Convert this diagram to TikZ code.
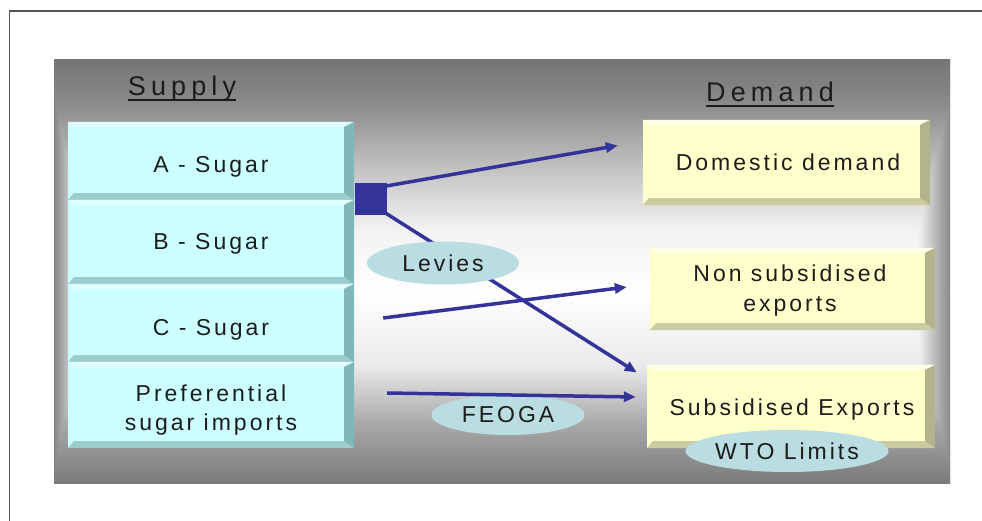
\documentclass[tikz,border=0pt]{standalone}
\usepackage{fontspec}
\setmainfont{Liberation Sans}
\newfontfamily\bodyfont{Liberation Sans}[LetterSpace=13]
\newfontfamily\headfont{Liberation Sans}[LetterSpace=19]
\usetikzlibrary{arrows.meta,shapes.geometric}
\definecolor{cy}{HTML}{CCFFFF}
\definecolor{cyd}{HTML}{80B8B8}
\definecolor{cym}{HTML}{9CCCCC}
\definecolor{cyl}{HTML}{E2FFFF}
\definecolor{ye}{HTML}{FFFFCC}
\definecolor{yed}{HTML}{B4B48C}
\definecolor{yem}{HTML}{CBCBA0}
\definecolor{yel}{HTML}{FFFFE6}
\definecolor{arr}{HTML}{333399}
\definecolor{ell}{HTML}{B9DDE1}
\definecolor{txt}{HTML}{1C1C1C}
\definecolor{frame}{HTML}{555555}
\pgfdeclareverticalshading{panelv}{100bp}{gray(0bp)=(0.48); gray(25bp)=(0.48); gray(32bp)=(0.66); gray(39bp)=(0.92); gray(47.5bp)=(1); gray(55bp)=(0.95); gray(63bp)=(0.74); gray(70bp)=(0.54); gray(75bp)=(0.46); gray(100bp)=(0.46)}
\pgfdeclarehorizontalshading{panelh}{100bp}{gray(0bp)=(0.52); gray(25bp)=(0.52); gray(25.7bp)=(0.74); gray(26.8bp)=(1); gray(73bp)=(1); gray(74.2bp)=(0.72); gray(75bp)=(0.54); gray(100bp)=(0.54)}
\newcommand\mybevel[4]{%
  \fill[#4] (#1.north west) -- (#1.north east) -- ([shift={(-10,5)}]#1.north east) -- ([shift={(6,5)}]#1.north west) -- cycle;
  \fill[#3] (#1.south west) -- (#1.south east) -- ([shift={(-10,-7)}]#1.south east) -- ([shift={(6,-7)}]#1.south west) -- cycle;
  \fill[#2] (#1.north east) -- (#1.south east) -- ([shift={(-10,-7)}]#1.south east) -- ([shift={(-10,5)}]#1.north east) -- cycle;
}
\tikzset{
  cbox/.style={rectangle, fill=cy, inner sep=0pt},
  ybox/.style={rectangle, fill=ye, inner sep=0pt},
  lbl/.style={text=txt, inner sep=0pt, anchor=base, font=\bodyfont\fontsize{23}{29}\selectfont, align=center},
  hd/.style={text=txt, inner sep=0pt, anchor=base, font=\headfont\fontsize{27}{30}\selectfont},
  oval/.style={ellipse, fill=ell, inner sep=0pt, text=txt, font=\bodyfont\fontsize{23}{29}\selectfont},
  flow/.style={draw=arr, line width=3.5pt, -{Triangle[length=12pt,width=10pt]}},
  ul/.style={draw=txt, line width=2pt}
}
\begin{document}
\begin{tikzpicture}[x=1pt,y=-1pt]
\useasboundingbox (0,0) rectangle (982,521);
\fill[white] (0,0) rectangle (982,521);
\draw[frame, line width=1.5pt] (9.5,521) -- (9.5,10.8) -- (982,10.8);
% panel
\begin{scope}[transparency group]
\shade[shading=panelv] (54,60) rectangle (950,483);
\shade[shading=panelh, blend mode=darken] (54,60) rectangle (950,483);
\end{scope}
% headings
\node[hd] (sup) at (182,96) {Supply};
\draw[ul] ([shift={(0,4.5)}]sup.base west) -- ([shift={(0,4.5)}]sup.base east);
\node[hd] (dem) at (770,102) {Demand};
\draw[ul] ([shift={(0,4.5)}]dem.base west) -- ([shift={(0,4.5)}]dem.base east);
% supply boxes
\node[cbox, minimum width=286pt, minimum height=78pt] (a) at (211,161) {};
\mybevel{a}{cyd}{cym}{cyl}
\node[cbox, minimum width=286pt, minimum height=84pt] (b) at (211,242) {};
\mybevel{b}{cyd}{cym}{cyl}
\node[cbox, minimum width=286pt, minimum height=78pt] (c) at (211,323) {};
\mybevel{c}{cyd}{cym}{cyl}
\node[cbox, minimum width=286pt, minimum height=86pt] (p) at (211,405) {};
\mybevel{p}{cyd}{cym}{cyl}
\node[lbl] (at) at (211,173) {A - Sugar};
\node[lbl] (bt) at (211,250) {B - Sugar};
\node[lbl] (ct) at (211,335) {C - Sugar};
\node[lbl] (pt) at (211,430) {Preferential\\sugar imports};
% demand boxes
\node[ybox, minimum width=287pt, minimum height=85pt] (dom) at (786.5,162.5) {};
\mybevel{dom}{yed}{yem}{yel}
\node[ybox, minimum width=285pt, minimum height=82pt] (non) at (792.5,289) {};
\mybevel{non}{yed}{yem}{yel}
\node[ybox, minimum width=288pt, minimum height=83pt] (sub) at (791,406.5) {};
\mybevel{sub}{yed}{yem}{yel}
\node[lbl] (domt) at (788,171) {Domestic demand};
\node[lbl] (nont) at (790,311) {Non subsidised\\exports};
\node[lbl] (subt) at (792,415) {Subsidised Exports};
\node[oval, minimum width=155pt, minimum height=42pt] (wto) at (787,451) {WTO Limits};
% junction and flows
\node[fill=arr, minimum size=32pt, inner sep=0pt] (jn) at (371,199) {};
\draw[flow] ([shift={(-1,-13)}]jn.east) -- ([shift={(-25,-17)}]dom.west);
\draw[flow] ([shift={(-3,-3)}]jn.south east) -- ([shift={(-10,-34)}]sub.west);
\draw[flow] ([shift={(29,-5)}]c.east) -- ([shift={(-23,-2)}]non.west);
\node[oval, minimum width=152pt, minimum height=43pt] (lev) at (443,263) {Levies};
\node[oval, minimum width=153pt, minimum height=40pt] (feo) at (508,415) {FEOGA};
\draw[flow] ([shift={(33,-12)}]p.east) -- ([shift={(-11,-9.5)}]sub.west);
\end{tikzpicture}
\end{document}
